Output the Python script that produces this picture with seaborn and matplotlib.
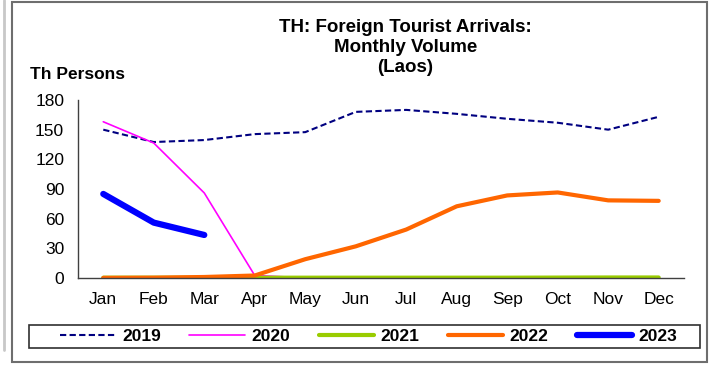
import numpy as np
import pandas as pd
import matplotlib
matplotlib.use("Agg")
import matplotlib.pyplot as plt
from matplotlib.patches import Rectangle
from matplotlib.lines import Line2D
import seaborn as sns

# Du lieu doc tu bieu do (nghin nguoi)
months = ['Jan', 'Feb', 'Mar', 'Apr', 'May', 'Jun', 'Jul', 'Aug', 'Sep', 'Oct', 'Nov', 'Dec']
v2019 = [150, 137.5, 139.5, 145.5, 147.5, 168, 170, 166, 161, 157, 150, 163]
v2020 = [158, 136.5, 86, 2.5, 0.2, 0.2, 0.2, 0.2, 0.2, 0.2, 0.2, 0.2]
v2021 = [0.3, 0.3, 0.3, 0.3, 0.3, 0.3, 0.3, 0.3, 0.3, 0.4, 0.5, 0.5]
v2022 = [0.1, 0.3, 1.0, 2.5, 19, 32, 49, 72.5, 83.5, 86.5, 78.5, 78]
v2023 = [85, 56, 43.5, np.nan, np.nan, np.nan, np.nan, np.nan, np.nan, np.nan, np.nan, np.nan]

years = ['2019', '2020', '2021', '2022', '2023']
series = [v2019, v2020, v2021, v2022, v2023]
colors = ['#000080', '#ff00ff', '#99cc00', '#ff6600', '#0000ff']
widths = [1.5, 1.2, 3.0, 3.0, 4.5]
styles = [(0, (3, 1.6)), '-', '-', '-', '-']

sns.set_style("white")
plt.rcParams['font.family'] = ['Liberation Sans', 'DejaVu Sans']
plt.rcParams['text.color'] = 'black'
plt.rcParams['xtick.color'] = 'black'
plt.rcParams['ytick.color'] = 'black'

fig = plt.figure(figsize=(7.12, 3.65), dpi=100)
ax = fig.add_axes([0.1096, 0.2384, 0.851, 0.4876])

x = np.arange(len(months))
for yr, vals, c, lw, ls in zip(years, series, colors, widths, styles):
    df = pd.DataFrame({'x': x, 'y': vals})
    sns.lineplot(data=df, x='x', y='y', ax=ax, color=c, lw=lw, linestyle=ls,
                 solid_capstyle='round', label=yr, legend=False)

ax.set_xlim(-0.5, 11.5)
ax.set_ylim(0, 180)
ax.set_yticks(range(0, 181, 30))
ax.set_xticks(np.arange(-0.5, 12, 1))
ax.set_xticklabels([])
ax.set_xticks(x, minor=True)
ax.set_xticklabels(months, minor=True)
ax.tick_params(axis='x', which='major', direction='out', length=4, width=1, color='#404040')
ax.tick_params(axis='x', which='minor', length=0, pad=10, labelsize=12.5)
ax.tick_params(axis='y', direction='out', length=4, width=1, color='#404040', labelsize=12.5, pad=6)
ax.set_xlabel('')
ax.set_ylabel('')
for s in ['top', 'right']:
    ax.spines[s].set_visible(False)
for s in ['left', 'bottom']:
    ax.spines[s].set_color('#404040')
    ax.spines[s].set_linewidth(1)

fig.text(0.569, 0.948, 'TH: Foreign Tourist Arrivals:\nMonthly Volume\n(Laos)',
         ha='center', va='top', fontsize=13.5, fontweight='bold', linespacing=1.25)
fig.text(0.042, 0.795, 'Th Persons', ha='left', va='center', fontsize=12.5, fontweight='bold')

# legend: noi dung can giua, khung ve rieng
handles = [Line2D([0], [0], color=c, lw=lw, linestyle=ls, solid_capstyle='round')
           for c, lw, ls in zip(colors, widths, styles)]
leg = fig.legend(handles, years, loc='center', bbox_to_anchor=(0.518, 0.078),
                 ncol=5, frameon=False, handlelength=3.2, columnspacing=1.65,
                 borderaxespad=0, prop={'weight': 'bold', 'size': 12.5}, handletextpad=0.35)
fig.patches.append(Rectangle((0.0407, 0.0466), 0.942, 0.063, transform=fig.transFigure,
                             fill=False, edgecolor='#303030', lw=1.2))

fig.patches.append(Rectangle((0.0169, 0.008), 0.976, 0.987, transform=fig.transFigure,
                             fill=False, edgecolor='#6e6e6e', lw=1.5))
fig.lines.append(Line2D([0.006, 0.006], [0.04, 1.0], transform=fig.transFigure,
                        color='#c8c8c8', lw=2))

fig.savefig('out.png', dpi=100)
